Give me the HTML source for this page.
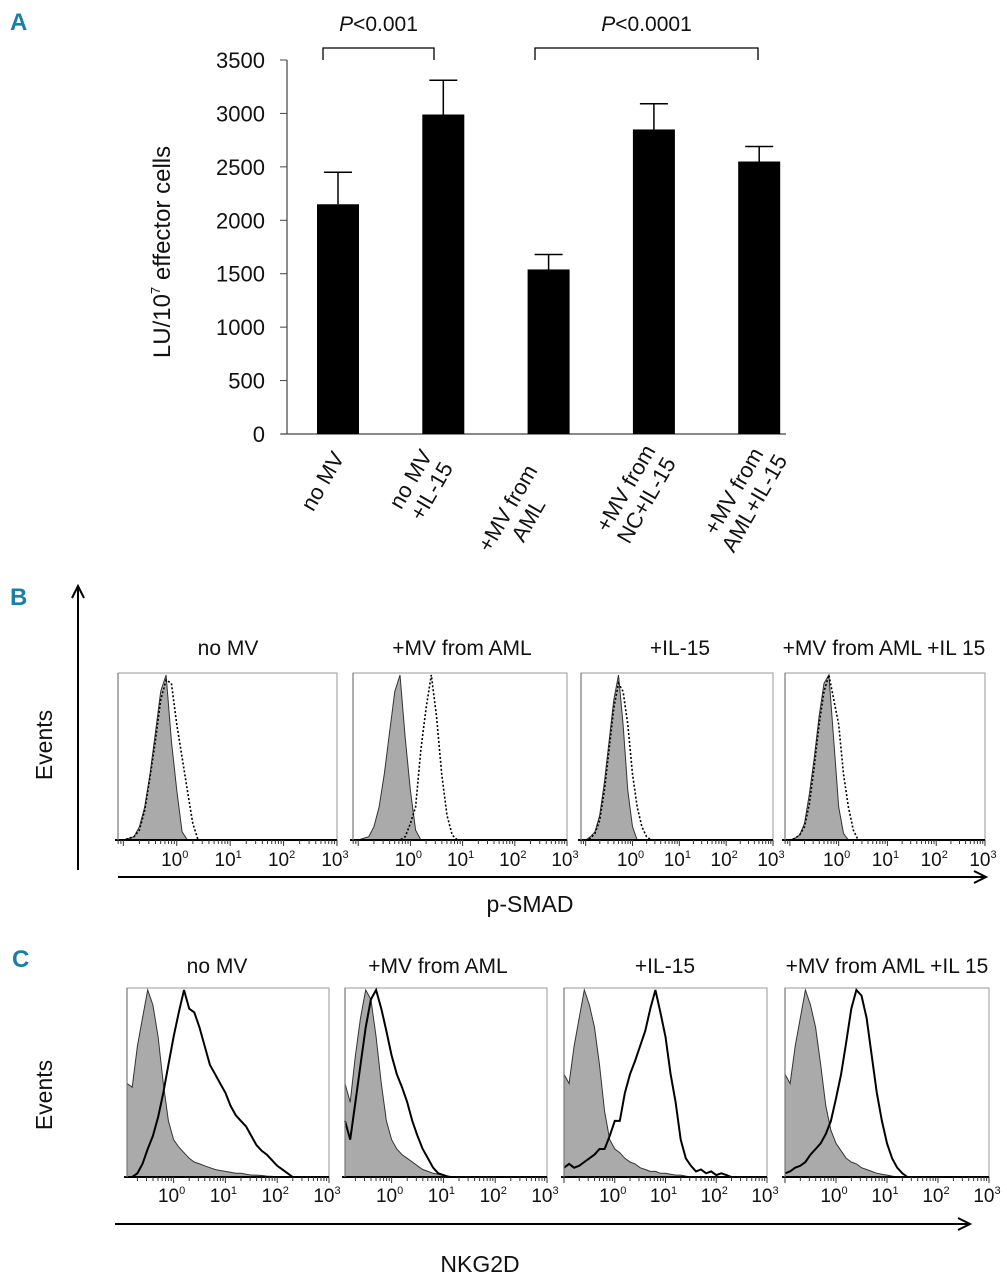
<!DOCTYPE html>
<html><head><meta charset="utf-8"><style>
html,body{margin:0;padding:0;background:#fff;}
svg{display:block;}
text{font-family:"Liberation Sans Narrow","Liberation Sans",sans-serif;fill:#111;}
</style></head><body>
<svg id="fig" width="1007" height="1280" viewBox="0 0 1007 1280" xmlns="http://www.w3.org/2000/svg">
<text x="10" y="30" font-size="24" font-weight="bold" style="fill:#1a7fa6">A</text>
<text x="10" y="605" font-size="24" font-weight="bold" style="fill:#1a7fa6">B</text>
<text x="12" y="967" font-size="24" font-weight="bold" style="fill:#1a7fa6">C</text>
<g id="chartA"></g>
<g id="panelB"></g>
<g id="panelC"></g>
</svg>
<script>
// ---- Panel A data ----
const categories = [["no MV"],["no MV","+IL-15"],["+MV from","AML"],["+MV from","NC+IL-15"],["+MV from","AML+IL-15"]];
const barValues = [2150, 2990, 1540, 2850, 2550];
const errorTops = [2450, 3310, 1680, 3090, 2690];
const yTicks = [0,500,1000,1500,2000,2500,3000,3500];
const pLabels = ["<0.001","<0.0001"];

// ---- Panel B data (log start -1.1, step 0.1) ----
const bTitles = ["no MV","+MV from AML","+IL-15","+MV from AML +IL 15"];
const bGray = [
 [0,0,0.01,0.02,0.08,0.2,0.4,0.65,0.9,1.0,0.6,0.3,0.05,0],
 [0,0,0.01,0.02,0.08,0.2,0.4,0.65,0.9,1.0,0.62,0.3,0.06,0],
 [0,0,0.02,0.05,0.15,0.35,0.6,0.85,1.0,0.7,0.3,0.08,0],
 [0,0,0.01,0.03,0.1,0.28,0.5,0.75,0.95,1.0,0.6,0.2,0.04,0]
];
const bDotted = [
 [0,0,0.01,0.02,0.06,0.18,0.38,0.6,0.85,0.97,0.95,0.7,0.5,0.3,0.1,0],
 [0,0,0,0,0,0,0,0,0,0,0.02,0.1,0.2,0.55,0.8,1.0,0.75,0.4,0.15,0.03,0],
 [0,0,0.01,0.04,0.12,0.3,0.55,0.8,0.95,0.9,0.7,0.4,0.2,0.08,0.02,0],
 [0,0,0.01,0.03,0.08,0.22,0.45,0.7,0.9,1.0,0.85,0.7,0.4,0.2,0.06,0]
];
// ---- Panel C data (log start per box, step 0.1) ----
const cTitles = ["no MV","+MV from AML","+IL-15","+MV from AML +IL 15"];
const cGray = [
 [0.5,0.48,0.7,0.85,1.0,0.92,0.75,0.5,0.3,0.2,0.16,0.13,0.1,0.08,0.07,0.06,0.05,0.04,0.035,0.03,0.025,0.02,0.02,0.015,0.01,0.01,0.008,0.005,0.003,0],
 [0.5,0.4,0.65,0.85,1.0,0.95,0.75,0.5,0.3,0.2,0.15,0.12,0.1,0.08,0.06,0.04,0.03,0.02,0.015,0.01,0.005,0],
 [0.55,0.5,0.7,0.85,1.0,0.92,0.8,0.6,0.35,0.2,0.15,0.13,0.1,0.08,0.07,0.05,0.04,0.03,0.03,0.02,0.02,0.015,0.01,0.01,0.005,0],
 [0.55,0.5,0.7,0.85,1.0,0.92,0.8,0.6,0.38,0.25,0.18,0.14,0.1,0.08,0.07,0.05,0.04,0.03,0.02,0.015,0.01,0.005,0]
];
const cBlack = [
 [0,0,0.02,0.07,0.15,0.22,0.32,0.45,0.6,0.75,0.88,1.0,0.9,0.88,0.8,0.7,0.6,0.55,0.5,0.45,0.38,0.33,0.3,0.27,0.22,0.17,0.14,0.12,0.09,0.06,0.04,0.02,0],
 [0.3,0.2,0.4,0.6,0.8,0.95,1.0,0.9,0.78,0.65,0.55,0.48,0.4,0.3,0.22,0.15,0.1,0.05,0.02,0.01,0],
 [0.05,0.07,0.05,0.06,0.08,0.1,0.12,0.15,0.15,0.22,0.3,0.3,0.45,0.55,0.62,0.7,0.78,0.9,1.0,0.88,0.75,0.55,0.4,0.2,0.1,0.06,0.03,0.04,0.02,0.03,0.01,0.02,0.01,0],
 [0.02,0.03,0.05,0.06,0.08,0.12,0.15,0.18,0.23,0.3,0.42,0.55,0.72,0.9,1.0,0.97,0.85,0.65,0.45,0.3,0.18,0.1,0.05,0.02,0]
];
const decadeLabels = ["0","1","2","3"];

const NS="http://www.w3.org/2000/svg";
function mk(parent,tag,attrs,txt){const e=document.createElementNS(NS,tag);for(const k in attrs)e.setAttribute(k,attrs[k]);if(txt!==undefined)e.textContent=txt;parent.appendChild(e);return e;}

// ================= Panel A =================
const A=document.getElementById('chartA');
const yMin=0,yMax=3500,yTop=60,yBot=434,axisX=287;
const yScale=v=>yBot-(v-yMin)/(yMax-yMin)*(yBot-yTop);
const xCenter=i=>338+i*105.3;
const barW=42;
mk(A,'line',{x1:axisX,y1:yTop,x2:axisX,y2:yBot,stroke:'#444','stroke-width':1.2});
mk(A,'line',{x1:axisX-6,y1:yBot,x2:786,y2:yBot,stroke:'#444','stroke-width':1.2});
yTicks.forEach(t=>{
  mk(A,'line',{x1:axisX-7,y1:yScale(t),x2:axisX,y2:yScale(t),stroke:'#444','stroke-width':1});
  const tx=mk(A,'text',{x:265,y:yScale(t)+8,'font-size':22,'text-anchor':'end'},String(t));
  
  
});
const yt=mk(A,'text',{transform:'translate(170,252) rotate(-90)','font-size':24,'text-anchor':'middle',style:'font-family:"Liberation Sans",sans-serif'});


yt.innerHTML='LU/10<tspan font-size="13" dy="-10">7</tspan><tspan dy="10"> effector cells</tspan>';
barValues.forEach((v,i)=>{
  const cx=xCenter(i);
  const r=mk(A,'rect',{x:cx-barW/2,y:yScale(v),width:barW,height:yBot-yScale(v),fill:'#000'});
  
  
  const e=mk(A,'path',{d:`M${cx},${yScale(v)}V${yScale(errorTops[i])}M${cx-14},${yScale(errorTops[i])}H${cx+14}`,stroke:'#000','stroke-width':1.5,fill:'none'});
  
  
  const lines=categories[i];
  const c1=[[324,482],[412,480],[509,509],[627,489],[735,492]][i];
  lines.forEach((ln,j)=>{
    const cx2=c1[0]+j*24*0.866, cy2=c1[1]+j*24*0.5;
    const t=mk(A,'text',{transform:`translate(${cx2},${cy2}) rotate(-60)`,'font-size':22,'text-anchor':'middle','dominant-baseline':'middle'},ln);
    
    
  });
});
function bracket(i1,i2,lbl,xs){
  const x1=xs[0],x2=xs[1];
  const p=mk(A,'path',{d:`M${x1},60V48H${x2}V60`,stroke:'#000','stroke-width':1.3,fill:'none'});
  
  
  const t=mk(A,'text',{x:(x1+x2)/2,y:31,'font-size':21,'text-anchor':'middle'});
  
  
  t.innerHTML='<tspan font-style="italic">P</tspan>'+lbl.replace('<','&lt;');
}
bracket(0,1,pLabels[0],[323,434]);
bracket(2,4,pLabels[1],[535,758]);

// ================= Histograms =================
function histBox(G,box,lmin,lmax,gray,other,dotted,title,titleX,titleY,labY){
  const [x0,x1,y0,y1]=box;
  const lx=l=>x0+(l-lmin)/(lmax-lmin)*(x1-x0);
  const hy=h=>y1-h*(y1-y0-2);
  const bg=mk(G,'rect',{x:x0,y:y0,width:x1-x0,height:y1-y0,fill:'#fff',stroke:'#999','stroke-width':1});
  
  
  function path(arr){let d='';arr.forEach((h,i)=>{d+=(i?'L':'M')+lx(lmin+i*0.1).toFixed(1)+','+hy(h).toFixed(1);});return d;}
  const gp=mk(G,'path',{d:path(gray)+`L${lx(lmin+(gray.length-1)*0.1)},${y1}L${x0},${y1}Z`,fill:'#aaa',stroke:'#333','stroke-width':1});
  
  
  const op=mk(G,'path',{d:path(other),fill:'none',stroke:'#000','stroke-width':dotted?1.6:2,'stroke-dasharray':dotted?'2,2':'none'});
  
  
  mk(G,'line',{x1:x0-3,y1:y1,x2:x1,y2:y1,stroke:'#000','stroke-width':2});
  mk(G,'line',{x1:x0,y1:y0,x2:x0,y2:y1,stroke:'#777','stroke-width':1.2});
  for(let d=-2;d<3;d++){for(let k=1;k<10;k++){const l=d+Math.log10(k);if(l<lmin||l>lmax)continue;const x=lx(l);mk(G,'line',{x1:x,y1:y1,x2:x,y2:y1+(k==1?6:4),stroke:'#333','stroke-width':1});}}
  if(lmax>=3){mk(G,'line',{x1:lx(3),y1:y1,x2:lx(3),y2:y1+6,stroke:'#333','stroke-width':1});}
  decadeLabels.forEach((s,i)=>{
    const t=mk(G,'text',{x:lx(i)-2,y:labY,'font-size':19,'text-anchor':'middle'});
    
    
    t.innerHTML='10<tspan font-size="11" dy="-8">'+s+'</tspan>';
  });
  const tt=mk(G,'text',{x:titleX,y:titleY,'font-size':21,'text-anchor':'middle'},title);
  
  
}
function arrowH(G,x1,x2,y,name){
  const p=mk(G,'path',{d:`M${x1},${y}H${x2}M${x2-12},${y-6}L${x2},${y}L${x2-12},${y+6}`,stroke:'#000','stroke-width':2,fill:'none'});
  
  
}
const B=document.getElementById('panelB');
const bBoxes=[[118,337,673,840],[353,567,673,840],[581,773,673,840],[785,985,673,840]];
const bTitleX=[228,462,680,884];
bBoxes.forEach((bx,i)=>histBox(B,bx,-1.1,3,bGray[i],bDotted[i],true,bTitles[i],bTitleX[i],655,866));
const va=mk(B,'path',{d:'M78,870V586M72,598L78,586L84,598',stroke:'#000','stroke-width':2,fill:'none'});


arrowH(B,118,986,877,'x-axis-arrow');
let t=mk(B,'text',{x:530,y:912,'font-size':23,'text-anchor':'middle',style:'font-family:"Liberation Sans",sans-serif'},'p-SMAD');


t=mk(B,'text',{transform:'translate(52,745) rotate(-90)','font-size':23,'text-anchor':'middle',style:'font-family:"Liberation Sans",sans-serif'},'Events');



const C=document.getElementById('panelC');
const cBoxes=[[127,329,988,1177],[345,547,988,1177],[564,767,988,1177],[785,989,988,1177]];
const cStart=[-0.9,-0.9,-1.0,-1.0];
const cTitleX=[217,438,665,887];
cBoxes.forEach((bx,i)=>histBox(C,bx,cStart[i],3,cGray[i],cBlack[i],false,cTitles[i],cTitleX[i],973,1202));
arrowH(C,115,970,1224,'x-axis-arrow');
t=mk(C,'text',{x:480,y:1272,'font-size':23,'text-anchor':'middle',style:'font-family:"Liberation Sans",sans-serif'},'NKG2D');


t=mk(C,'text',{transform:'translate(52,1095) rotate(-90)','font-size':23,'text-anchor':'middle',style:'font-family:"Liberation Sans",sans-serif'},'Events');


</script>
</body></html>
